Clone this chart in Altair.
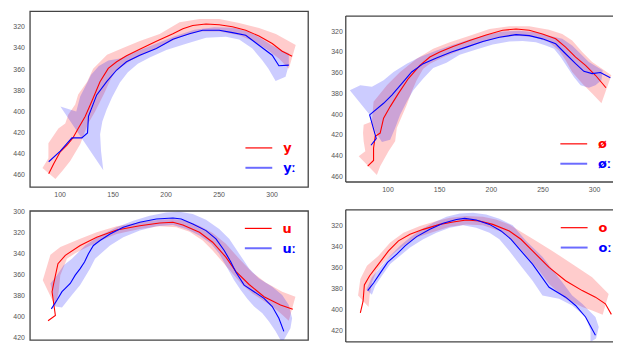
import altair as alt
import pandas as pd

RED = "#ff0000"
BLUE = "#0000ff"
FRAME = "#444444"
AX_FONT = "Liberation Sans, Arial, sans-serif"
LEG_FONT = "DejaVu Sans"

# ---------------- panel 1 : y / yː ----------------
p1_red_x = [89.7, 94.4, 100.6, 106.9, 112.5, 117.8, 124.1, 130.3, 138.1, 145.9, 153.8, 163.1, 175.6, 191.3, 206.9, 216.3, 225.6, 238.1, 250.6, 263.1, 275.6, 288.1, 300.6, 310.0, 319.4]
p1_red_y = [458.8, 449.4, 438.1, 431.9, 425.0, 415.6, 404.7, 390.6, 371.9, 359.4, 353.1, 347.5, 341.3, 333.8, 326.6, 321.9, 318.8, 317.5, 318.1, 320.0, 323.4, 328.8, 335.9, 343.1, 347.8]
p1_blue_x = [89.7, 100.6, 111.6, 120.9, 126.3, 127.2, 135.0, 144.4, 153.8, 163.1, 175.6, 191.3, 206.9, 222.5, 235.0, 250.6, 263.1, 275.6, 288.1, 300.6, 306.9, 316.3]
p1_blue_y = [447.5, 437.5, 425.0, 425.0, 420.3, 404.7, 384.4, 371.9, 360.9, 353.1, 346.9, 340.6, 331.9, 326.6, 323.4, 323.4, 325.6, 328.1, 337.5, 346.9, 356.9, 356.3]
p1_rband_ux = [96.0, 83.8, 89.4, 89.4, 98.8, 105.3, 108.2, 114.7, 117.5, 126.0, 131.6, 138.2, 144.7, 159.7, 175.7, 194.4, 213.2, 231.9, 250.7, 269.4, 288.2, 304.1, 322.8]
p1_rband_uy = [463.8, 453.5, 444.1, 430.0, 416.0, 411.3, 402.8, 393.5, 384.1, 371.9, 359.7, 353.2, 346.6, 340.0, 333.5, 326.9, 315.7, 312.8, 312.8, 316.6, 321.3, 326.9, 337.2]
p1_rband_lx = [316.3, 306.9, 295.7, 283.5, 269.4, 250.7, 231.9, 213.2, 194.4, 180.3, 168.2, 158.8, 152.2, 147.5, 141.9, 133.5, 126.9, 119.4, 110.0, 102.5]
p1_rband_ly = [359.7, 350.0, 341.5, 334.0, 328.0, 324.5, 324.5, 330.0, 339.0, 345.5, 351.5, 357.5, 363.0, 371.0, 383.2, 400.0, 411.3, 431.0, 446.9, 456.3]
p1_bband_ux = [100.7, 115.7, 119.4, 124.1, 129.7, 137.0, 146.0, 156.9, 171.0, 189.7, 208.5, 227.2, 246.0, 264.7, 278.8, 290.0, 299.4, 308.8, 316.3]
p1_bband_uy = [395.3, 400.0, 386.0, 376.6, 365.3, 357.0, 352.0, 350.0, 344.0, 336.5, 329.0, 323.0, 320.5, 321.0, 325.0, 331.0, 337.0, 342.0, 345.0]
p1_bband_lx = [316.3, 313.2, 303.8, 296.9, 291.2, 281.9, 269.4, 256.9, 238.2, 219.4, 200.7, 185.0, 173.8, 164.4, 156.9, 149.4, 144.4, 140.3, 138.2, 139.1, 141.2]
p1_bband_ly = [356.0, 367.2, 371.2, 359.4, 351.6, 340.7, 332.0, 329.5, 330.5, 336.0, 342.0, 349.0, 355.0, 363.0, 372.8, 386.9, 398.2, 409.4, 421.6, 437.5, 455.6]

# ---------------- panel 2 : ø / øː ----------------
p2_red_x = [80.8, 86.5, 86.5, 88.1, 92.9, 96.2, 102.6, 110.6, 120.2, 131.4, 141.0, 150.6, 163.5, 179.5, 195.5, 211.5, 224.4, 237.2, 250.0, 262.8, 272.4, 282.1, 291.7, 301.3, 311.5]
p2_red_y = [450.4, 444.9, 432.8, 421.6, 418.4, 404.0, 392.8, 380.0, 365.7, 352.9, 344.9, 340.1, 334.7, 328.9, 323.5, 319.0, 317.8, 319.0, 322.6, 327.3, 335.3, 344.9, 352.9, 362.5, 374.6]
p2_blue_x = [84.0, 89.1, 82.7, 86.5, 96.2, 104.2, 113.8, 123.4, 134.6, 147.4, 161.9, 176.3, 192.3, 208.3, 224.4, 237.2, 250.0, 262.8, 272.4, 282.1, 290.1, 298.1, 306.1, 315.7]
p2_blue_y = [430.2, 423.8, 400.8, 397.6, 389.6, 381.7, 370.5, 359.3, 351.3, 345.9, 340.1, 335.3, 329.9, 325.8, 323.2, 324.2, 327.3, 332.1, 341.7, 351.3, 358.7, 360.9, 359.9, 365.0]
p2_rband_ux = [72.1, 78.5, 76.9, 76.3, 76.9, 84.9, 86.5, 99.4, 112.2, 128.2, 144.2, 160.3, 179.5, 198.7, 217.9, 237.2, 256.4, 269.2, 278.8, 288.5, 298.1, 307.7, 316.7]
p2_rband_uy = [440.8, 436.0, 426.4, 418.4, 410.4, 407.2, 388.1, 372.1, 359.3, 346.5, 336.9, 330.5, 324.2, 317.8, 315.2, 315.2, 318.4, 322.6, 328.9, 340.1, 349.7, 356.1, 362.5]
p2_rband_lx = [307.1, 298.1, 288.5, 278.8, 272.4, 266.0, 256.4, 243.6, 224.4, 205.1, 185.9, 169.9, 153.8, 141.0, 134.6, 128.2, 123.4, 118.6, 113.8, 109.0, 107.4, 101.0, 92.9, 89.7]
p2_rband_ly = [389.6, 380.1, 370.5, 359.3, 348.1, 338.5, 330.5, 325.8, 324.2, 326.7, 332.5, 338.5, 345.0, 351.3, 356.1, 367.3, 378.5, 391.2, 402.4, 413.6, 426.4, 436.0, 450.4, 459.0]
p2_bband_ux = [63.5, 73.7, 84.9, 96.2, 105.8, 118.6, 131.4, 147.4, 163.5, 179.5, 195.5, 211.5, 227.6, 243.6, 256.4, 269.2, 278.8, 286.9, 294.9, 304.5, 308.3]
p2_bband_uy = [376.9, 372.1, 373.7, 367.3, 359.3, 351.3, 344.9, 338.5, 333.1, 328.0, 323.5, 320.3, 319.4, 321.0, 324.2, 327.3, 333.7, 341.7, 349.7, 355.5, 357.7]
p2_bband_lx = [307.1, 301.3, 294.9, 286.9, 280.4, 274.0, 267.6, 261.2, 253.2, 243.6, 230.8, 217.9, 201.9, 185.9, 169.9, 157.1, 144.2, 134.6, 125.0, 118.6, 112.2, 107.4, 102.6, 94.6, 88.1, 83.3]
p2_bband_ly = [367.3, 372.1, 374.6, 372.1, 364.1, 354.5, 344.9, 336.9, 333.7, 330.5, 329.3, 329.9, 332.8, 337.6, 342.7, 350.4, 355.5, 365.7, 376.9, 388.1, 400.8, 413.6, 424.8, 427.0, 416.8, 401.5]

# ---------------- panel 3 : u / uː ----------------
p3_red_x = [73.7, 80.8, 77.6, 79.2, 83.3, 90.4, 104.8, 120.8, 140.1, 162.5, 181.7, 194.6, 204.2, 220.2, 233.0, 245.8, 255.4, 268.3, 282.7, 298.7, 310.6]
p3_red_y = [404.5, 399.4, 376.7, 368.8, 349.9, 342.0, 332.5, 324.6, 317.7, 313.6, 311.1, 310.4, 312.9, 319.9, 329.4, 343.6, 357.2, 369.8, 381.5, 389.4, 393.5]
p3_blue_x = [76.9, 82.4, 87.2, 90.4, 95.2, 100.0, 104.8, 109.0, 112.8, 117.6, 124.0, 133.7, 146.5, 162.5, 178.5, 194.6, 202.6, 213.8, 226.6, 236.2, 244.2, 250.6, 255.4, 263.5, 273.1, 282.7, 290.7, 297.1, 301.9]
p3_blue_y = [393.1, 384.6, 376.7, 373.6, 368.8, 360.9, 354.6, 348.3, 340.4, 332.5, 327.8, 321.5, 315.2, 310.4, 307.3, 306.3, 307.3, 312.0, 318.3, 326.2, 337.3, 348.3, 357.8, 370.4, 376.7, 383.0, 390.9, 402.0, 414.6]
p3_rband_ux = [68.6, 76.0, 85.6, 104.8, 120.8, 140.1, 162.5, 181.7, 194.6, 207.4, 220.2, 233.0, 245.8, 258.7, 271.5, 284.3, 300.3, 313.1]
p3_rband_uy = [365.7, 341.4, 334.1, 326.2, 319.9, 314.2, 310.4, 307.9, 307.3, 308.8, 313.6, 320.5, 330.9, 345.2, 358.4, 367.9, 376.7, 381.5]
p3_rband_lx = [306.7, 298.7, 290.7, 281.1, 271.5, 261.9, 252.2, 242.6, 233.0, 223.4, 210.6, 197.8, 181.7, 162.5, 140.1, 124.0, 108.0, 100.0, 92.0, 85.6, 84.0, 80.8]
p3_rband_ly = [404.5, 397.3, 390.9, 384.6, 378.3, 370.4, 359.4, 348.3, 337.3, 327.8, 319.3, 315.2, 314.2, 316.7, 321.5, 328.0, 336.0, 340.0, 345.2, 360.9, 376.7, 390.9]
p3_bband_ux = [76.0, 82.4, 88.8, 96.8, 109.6, 124.0, 140.1, 156.1, 172.1, 188.1, 201.0, 213.8, 226.6, 239.4, 249.0, 258.7, 268.3, 277.9, 290.7, 300.3, 306.7, 309.9, 308.3]
p3_bband_uy = [368.8, 360.9, 351.5, 345.2, 332.5, 323.1, 315.2, 308.8, 304.1, 300.9, 300.3, 302.5, 307.9, 316.7, 326.2, 340.4, 354.6, 364.1, 372.0, 379.9, 389.4, 402.0, 411.5]
p3_bband_lx = [300.3, 293.9, 287.5, 281.1, 273.1, 266.7, 260.3, 253.8, 247.4, 239.4, 231.4, 220.2, 207.4, 194.6, 178.5, 162.5, 146.5, 133.7, 119.2, 114.4, 109.6, 104.8, 96.8, 87.2, 80.8]
p3_bband_ly = [425.7, 414.6, 405.1, 397.3, 390.9, 383.7, 375.2, 365.7, 354.6, 340.4, 330.9, 323.1, 316.7, 312.9, 314.2, 318.3, 324.6, 332.5, 345.2, 354.6, 362.5, 370.4, 379.9, 391.9, 390.9]

# ---------------- panel 4 : o / oː ----------------
p4_red_x = [73.7, 76.3, 77.6, 82.7, 91.3, 101.0, 110.6, 121.8, 134.6, 150.6, 163.5, 176.3, 189.1, 201.9, 217.9, 229.2, 240.4, 256.4, 272.4, 288.5, 301.3, 310.9, 316.7]
p4_red_y = [403.1, 392.4, 376.7, 368.0, 357.0, 344.5, 335.0, 328.8, 324.1, 319.4, 317.2, 315.3, 316.2, 319.4, 325.6, 333.5, 344.5, 360.1, 372.7, 382.1, 388.3, 394.6, 404.6]
p4_blue_x = [80.8, 86.5, 92.9, 100.0, 109.0, 117.0, 128.2, 141.0, 153.8, 166.7, 174.7, 185.9, 198.7, 209.9, 219.6, 229.2, 240.4, 256.4, 272.4, 282.1, 291.7, 301.3]
p4_blue_y = [382.1, 374.9, 365.5, 355.4, 347.6, 339.7, 331.0, 324.1, 318.4, 314.7, 313.7, 315.3, 319.4, 325.6, 333.5, 344.5, 357.0, 378.9, 388.3, 396.2, 407.1, 424.4]
p4_rband_ux = [71.5, 73.7, 80.1, 91.3, 102.6, 115.4, 131.4, 147.4, 160.3, 176.3, 192.3, 205.1, 217.9, 230.8, 243.6, 259.6, 278.8, 298.1, 314.1]
p4_rband_uy = [386.8, 371.1, 358.6, 349.2, 336.6, 327.2, 320.9, 316.2, 313.1, 311.5, 312.2, 314.7, 319.4, 327.2, 335.0, 344.5, 357.0, 369.5, 385.2]
p4_rband_lx = [308.3, 298.1, 288.5, 272.4, 256.4, 246.8, 237.2, 227.6, 217.9, 208.3, 192.3, 176.3, 160.3, 144.2, 128.2, 115.4, 106.4, 96.2, 89.7, 84.9, 82.7, 81.7]
p4_rband_ly = [405.0, 400.9, 397.7, 389.9, 375.8, 363.3, 352.3, 341.3, 331.9, 325.6, 320.3, 319.4, 321.6, 326.6, 331.9, 339.7, 346.6, 355.4, 363.3, 374.2, 386.8, 397.7]
p4_bband_ux = [79.5, 84.9, 92.9, 102.6, 112.2, 121.8, 133.0, 144.2, 157.1, 169.9, 182.7, 195.5, 208.3, 221.2, 234.0, 250.0, 259.6, 269.2, 278.8, 288.5, 301.3, 304.5, 301.9]
p4_bband_uy = [381.1, 369.5, 360.1, 349.2, 339.7, 331.9, 324.1, 317.8, 312.2, 309.0, 308.4, 310.0, 314.0, 320.3, 335.0, 350.0, 362.0, 374.2, 386.8, 394.6, 407.1, 416.6, 427.5]
p4_bband_lx = [296.5, 296.5, 291.7, 278.8, 266.0, 250.0, 240.4, 227.6, 217.9, 208.3, 198.7, 185.9, 173.1, 160.3, 147.4, 134.6, 121.8, 112.2, 102.6, 94.6, 88.1, 84.9]
p4_bband_ly = [430.7, 419.7, 407.1, 396.2, 389.9, 386.8, 372.7, 357.0, 344.5, 333.5, 327.2, 322.5, 320.3, 322.5, 327.2, 333.5, 341.3, 349.2, 357.0, 368.0, 377.4, 386.1]

# legend labels
p1_labels = ["y", "yː"]
p2_labels = ["ø", "øː"]
p3_labels = ["u", "uː"]
p4_labels = ["o", "oː"]

x_ticks = [100, 150, 200, 250, 300]


def path_df(xs, ys):
    return pd.DataFrame({"x": xs, "y": ys, "i": list(range(len(xs)))})


def band_df(ux, uy, lx, ly):
    return path_df(list(ux) + list(lx), list(uy) + list(ly))


def panel(red, blue, rband, bband, xdom, ydom, yticks, labels, w, h,
          ylabpad, leg_x, leg_y, open_right=False):
    xs = alt.Scale(domain=xdom, nice=False, zero=False)
    ys = alt.Scale(domain=ydom, nice=False, zero=False, reverse=True)
    ax_common = dict(title=None, ticks=False, domain=False, grid=False,
                     labelFont=AX_FONT, labelFontSize=7, labelColor="#555555")
    X = alt.X("x:Q", scale=xs, axis=alt.Axis(values=x_ticks, labelPadding=4, **ax_common))
    Y = alt.Y("y:Q", scale=ys, axis=alt.Axis(values=yticks, labelPadding=ylabpad, **ax_common))
    layers = []
    for df, col in [(rband, RED), (bband, BLUE)]:
        layers.append(alt.Chart(df).mark_line(filled=True, color=col, opacity=0.2, clip=True)
                      .encode(x=X, y=Y, order="i:Q"))
    for df, col in [(red, RED), (blue, BLUE)]:
        layers.append(alt.Chart(df).mark_line(color=col, strokeWidth=1.1, clip=True)
                      .encode(x=X, y=Y, order="i:Q"))
    one = pd.DataFrame({"k": [0]})
    layers.append(alt.Chart(one).mark_rule(color=RED, strokeWidth=1.2).encode(
        x=alt.value(leg_x), x2=alt.value(leg_x + 27), y=alt.value(leg_y)))
    layers.append(alt.Chart(one).mark_rule(color="#6b6bff", strokeWidth=2).encode(
        x=alt.value(leg_x), x2=alt.value(leg_x + 27), y=alt.value(leg_y + 20)))
    for lab, col, dy in [(labels[0], RED, 4.5), (labels[1], BLUE, 24.5)]:
        layers.append(alt.Chart(pd.DataFrame({"label": [lab]})).mark_text(
            align="left", baseline="alphabetic", font=LEG_FONT, fontSize=13,
            fontWeight="bold", color=col).encode(
            x=alt.value(leg_x + 38), y=alt.value(leg_y + dy), text="label:N"))
    if open_right:
        # frame whose right side lies beyond the page edge: top, left, bottom spines only
        for enc in [dict(x=alt.value(0), x2=alt.value(w), y=alt.value(0)),
                    dict(x=alt.value(0), y=alt.value(0), y2=alt.value(h)),
                    dict(x=alt.value(0), x2=alt.value(w), y=alt.value(h))]:
            layers.append(alt.Chart(one).mark_rule(color=FRAME, strokeWidth=1.3).encode(**enc))
        return alt.layer(*layers).properties(
            width=w, height=h, view=alt.ViewBackground(stroke="transparent"))
    return alt.layer(*layers).properties(width=w, height=h)


RW = 269  # right-hand panels (their right spine falls past the page edge)
p1 = panel(path_df(p1_red_x, p1_red_y), path_df(p1_blue_x, p1_blue_y),
           band_df(p1_rband_ux, p1_rband_uy, p1_rband_lx, p1_rband_ly),
           band_df(p1_bband_ux, p1_bband_uy, p1_bband_lx, p1_bband_ly),
           [71.9, 334.4], [305.3, 471.3], [320, 340, 360, 380, 400, 420, 440, 460],
           p1_labels, 280, 177, 5.5, 217, 137.7)
p2 = panel(path_df(p2_red_x, p2_red_y), path_df(p2_blue_x, p2_blue_y),
           band_df(p2_rband_ux, p2_rband_uy, p2_rband_lx, p2_rband_ly),
           band_df(p2_bband_ux, p2_bband_uy, p2_bband_lx, p2_bband_ly),
           [59.6, 318.3], [305.3, 465.7], [320, 340, 360, 380, 400, 420, 440, 460],
           p2_labels, RW, 167, 3.5, 216, 128.6, open_right=True)
p3 = panel(path_df(p3_red_x, p3_red_y), path_df(p3_blue_x, p3_blue_y),
           band_df(p3_rband_ux, p3_rband_uy, p3_rband_lx, p3_rband_ly),
           band_df(p3_bband_ux, p3_bband_uy, p3_bband_lx, p3_bband_ly),
           [56.1, 325.3], [299.4, 422.8], [300, 320, 340, 360, 380, 400, 420],
           p3_labels, 280, 130, 5.5, 216.4, 17.7)
p4 = panel(path_df(p4_red_x, p4_red_y), path_df(p4_blue_x, p4_blue_y),
           band_df(p4_rband_ux, p4_rband_uy, p4_rband_lx, p4_rband_ly),
           band_df(p4_bband_ux, p4_bband_uy, p4_bband_lx, p4_bband_ly),
           [59.6, 318.3], [305.6, 430.7], [320, 340, 360, 380, 400, 420],
           p4_labels, RW, 133, 3.5, 216.4, 18, open_right=True)

spacer = alt.Chart(pd.DataFrame({"k": [0]})).mark_rule(opacity=0).encode(
    x=alt.value(0), x2=alt.value(0), y=alt.value(0), y2=alt.value(1)).properties(
    width=1, height=1, view=alt.ViewBackground(stroke="transparent"))

left = alt.vconcat(p1, p3, spacing=24, bounds="flush")
right = alt.vconcat(spacer, alt.vconcat(p2, p4, spacing=28, bounds="flush"),
                    spacing=4, bounds="flush")

chart = alt.hconcat(left, right, spacing=21).properties(
    padding={"left": 4, "top": 1, "right": 0, "bottom": 0}
).configure_view(stroke=FRAME, strokeWidth=1.3)

chart.save("out.html", embed_options={"renderer": "svg", "actions": False})
